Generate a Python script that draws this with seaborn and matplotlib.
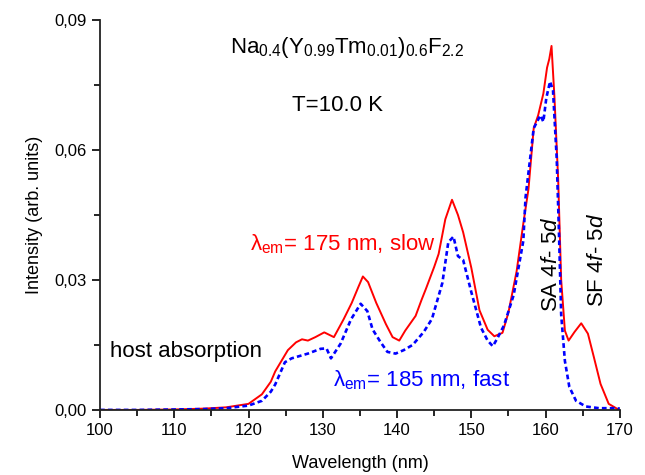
import numpy as np
import pandas as pd
import matplotlib
matplotlib.use("Agg")
import matplotlib.pyplot as plt
import seaborn as sns
from matplotlib.ticker import MultipleLocator, FuncFormatter

sns.set_theme(style="ticks")
plt.rcParams['font.family'] = ['Liberation Sans', 'DejaVu Sans']
plt.rcParams['mathtext.fontset'] = 'custom'
plt.rcParams['mathtext.rm'] = 'Liberation Sans'
plt.rcParams['mathtext.it'] = 'Liberation Sans:italic'
plt.rcParams['text.color'] = 'black'
plt.rcParams['axes.labelcolor'] = 'black'

# Slow component (lambda_em = 175 nm)
wl_slow = [100, 105, 110, 114, 117, 120, 121.8, 123, 123.6, 124.5, 125.3, 126.4, 127.2, 128, 129,
           130.2, 131.5, 132.8, 133.9, 134.8, 135.4, 136.1, 137.2, 138.5, 139.4, 140.3, 141.1,
           142.5, 143.3, 143.9, 145, 145.6, 146.5, 147.4, 148.2, 148.9, 150, 151.1, 152.2,
           153.1, 154.2, 155, 156.1, 157, 157.7, 158.4, 159, 159.7, 160.2, 160.5, 160.8,
           161.2, 161.7, 162.1, 162.6, 163.1, 163.9, 164.8, 165.7, 166.5, 167.4, 168.5, 169.9]
int_slow = [0, 0, 0.0001, 0.0003, 0.0006, 0.0014, 0.0036, 0.0065, 0.0089, 0.0115, 0.0138,
            0.0156, 0.0163, 0.016, 0.0168, 0.0179, 0.0168, 0.0209, 0.0247, 0.0284, 0.0308, 0.0295,
            0.0247, 0.0198, 0.0168, 0.016, 0.0183, 0.0217, 0.0254, 0.028, 0.033, 0.036, 0.044,
            0.0485, 0.045, 0.041, 0.0328, 0.023, 0.0185, 0.017, 0.0178, 0.0225, 0.032, 0.043,
            0.051, 0.065, 0.068, 0.073, 0.079, 0.081, 0.084, 0.072, 0.053, 0.030, 0.0183,
            0.016, 0.018, 0.0200, 0.0176, 0.0122, 0.006, 0.0014, 0.0]

# Fast component (lambda_em = 185 nm)
wl_fast = [100, 105, 110, 114, 117, 120, 121.8, 123, 123.6, 124.9, 125.8, 128, 129.7, 130.5,
           131.1, 132.4, 133.8, 135.1, 136, 136.7, 137.8, 138.7, 139.8, 140.9, 142.1, 143.6,
           144.7, 146.1, 146.9, 147.6, 148.2, 148.9, 150, 151.3, 152.2, 152.9, 153.5, 154.4,
           155.7, 157, 157.3, 158.4, 159.3, 159.7, 160.1, 160.6, 161, 161.5, 161.8, 162.1,
           162.6, 163.2, 164.1, 165.4, 167.2, 169.4, 170]
int_fast = [0, 0, 0.0001, 0.0002, 0.0004, 0.001, 0.0021, 0.0042, 0.0059, 0.011, 0.0119, 0.013,
            0.0141, 0.0142, 0.0119, 0.0153, 0.0209, 0.0245, 0.0228, 0.0186, 0.0156, 0.0134,
            0.013, 0.0138, 0.015, 0.018, 0.021, 0.0293, 0.0387, 0.0400, 0.0355, 0.0346, 0.0272,
            0.019, 0.016, 0.0147, 0.0165, 0.0195, 0.0265, 0.039, 0.049, 0.065, 0.068, 0.0665,
            0.072, 0.0758, 0.0737, 0.058, 0.041, 0.022, 0.0113, 0.0053, 0.0021, 0.0008,
            0.0004, 0.0004, 0.0003]

x_ticks = [100, 110, 120, 130, 140, 150, 160, 170]
y_ticks = [0.00, 0.03, 0.06, 0.09]

df_slow = pd.DataFrame({"wl": wl_slow, "I": int_slow})
df_fast = pd.DataFrame({"wl": wl_fast, "I": int_fast})

fig = plt.figure(figsize=(6.45, 4.75), dpi=100)
ax = fig.add_axes([0.155, 0.137, 0.806, 0.821])

sns.lineplot(data=df_slow, x="wl", y="I", ax=ax, color="#ff0000", lw=1.4, sort=False)
sns.lineplot(data=df_fast, x="wl", y="I", ax=ax, color="#0000ff", lw=1.9, sort=False,
             dashes=False, linestyle=(0, (1.8, 1.2)))

ax.set_xlim(100, 170)
ax.set_ylim(0, 0.09)
ax.set_xticks(x_ticks)
ax.set_yticks(y_ticks)
ax.xaxis.set_minor_locator(MultipleLocator(5))
ax.yaxis.set_minor_locator(MultipleLocator(0.015))
ax.yaxis.set_major_formatter(FuncFormatter(lambda v, p: f"{v:.2f}".replace(".", ",")))
ax.tick_params(axis="both", which="major", direction="out", length=6, width=1.2,
               labelsize=12, colors="black")
ax.tick_params(axis="both", which="minor", direction="out", length=4, width=1.2,
               colors="black")
for s in ["top", "right"]:
    ax.spines[s].set_visible(False)
for s in ["left", "bottom"]:
    ax.spines[s].set_linewidth(1.3)
    ax.spines[s].set_color("#222222")

ax.set_xlabel("Wavelength (nm)", fontsize=13, labelpad=12)
ax.set_ylabel("Intensity (arb. units)", fontsize=13, labelpad=8)

ax.text(133.2, 0.0824, r"Na$_{0.4}$(Y$_{0.99}$Tm$_{0.01}$)$_{0.6}$F$_{2.2}$", fontsize=16,
        ha="center", va="baseline")
ax.text(132.0, 0.0690, "T=10.0 K", fontsize=16, ha="center", va="baseline")
ax.text(120.2, 0.0369, r"λ$_{\rm em}$= 175 nm, slow", fontsize=16, color="#ff0000",
        ha="left", va="baseline")
ax.text(131.4, 0.0055, r"λ$_{\rm em}$= 185 nm, fast", fontsize=16, color="#0000ff",
        ha="left", va="baseline")
ax.text(101.3, 0.0122, "host absorption", fontsize=16, ha="left", va="baseline")
ax.text(160.8, 0.0335, r"SA 4$f$- 5$d$", fontsize=16, rotation=90, ha="center", va="center")
ax.text(167.0, 0.0345, r"SF 4$f$- 5$d$", fontsize=16, rotation=90, ha="center", va="center")

fig.savefig("out.png", dpi=100)
